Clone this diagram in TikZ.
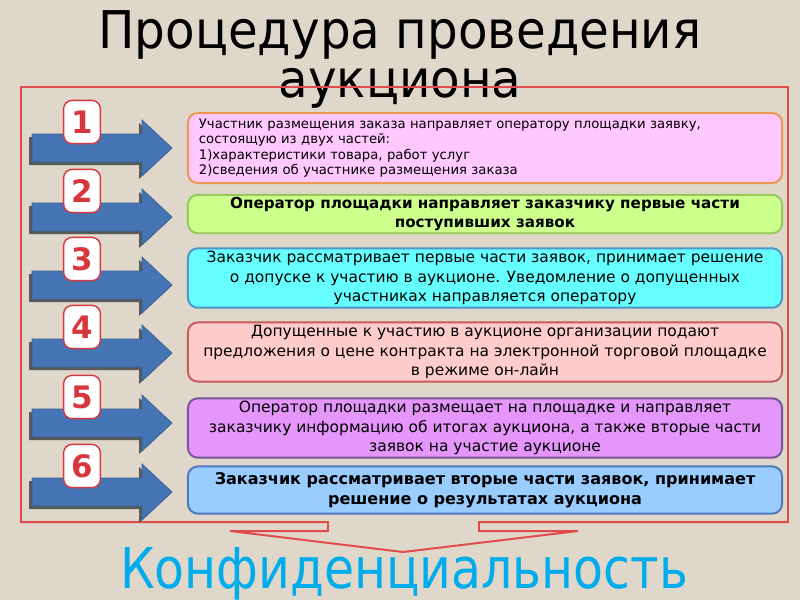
\documentclass[tikz,border=0pt]{standalone}
\usepackage{fontspec}
\setmainfont{DejaVu Sans}
\newfontfamily\titlefont[FakeStretch=0.93]{DejaVu Sans}
\newfontfamily\conffont[FakeStretch=0.87]{DejaVu Sans}
\usetikzlibrary{positioning}

\definecolor{paper}{RGB}{222,215,202}
\definecolor{frame}{RGB}{225,75,75}
\definecolor{arrowblue}{RGB}{70,117,182}
\definecolor{arrowline}{RGB}{55,95,150}
\definecolor{numred}{RGB}{215,55,60}
\definecolor{conf}{RGB}{0,172,235}

\tikzset{
  stepbox/.style={draw, rounded corners=7pt, line width=1.4pt, align=center,
    minimum width=14.85cm, inner sep=2pt, font=\fontsize{11}{13.9}\selectfont},
  badge/.style={draw=numred, fill=white, rounded corners=6pt, line width=1pt,
    minimum width=0.92cm, minimum height=1.08cm, inner sep=0pt,
    text=numred, font=\fontsize{22}{22}\selectfont\bfseries},
}

\begin{document}
\begin{tikzpicture}[x=0.025cm, y=-0.025cm]
  \fill[paper] (0,0) rectangle (800,600);

  % title
  \node (t1) [anchor=base, font=\fontsize{37}{37}\titlefont] at (400,48) {Процедура проведения};
  \node (t2) [anchor=base, font=\fontsize{37}{37}\titlefont] at (400,97) {аукциона};

  % frame with the arrow at the bottom
  \draw[frame, line width=1.4pt] (328,522) -- (21,522) -- (21,87) -- (788,87) -- (788,522) -- (479,522)
    -- (479,531) -- (578,531) -- (403,552) -- (230,531) -- (328,531) -- cycle;

  % arrows and numbers
  \foreach \y/\n in {148/1,217/2,285/3,353/4,423/5,492/6} {
    \fill[black!65] (29,\y-11) -- (139,\y-11) -- (139,\y-25) -- (169,\y+3) -- (139,\y+31) -- (139,\y+17) -- (29,\y+17) -- cycle;
    \filldraw[fill=arrowblue, draw=arrowline, line width=0.5pt] (32,\y-14) -- (142,\y-14) -- (142,\y-28) -- (172,\y) -- (142,\y+28) -- (142,\y+14) -- (32,\y+14) -- cycle;
    \node (n\n) [badge] at (82,\y-26) {\n};
  }

  % steps
  \node (b1) [stepbox, fill={rgb,255:red,255;green,200;blue,255}, draw={rgb,255:red,240;green,150;blue,80},
    minimum height=1.75cm, align=left, text width=14.3cm, font=\fontsize{9.4}{11}\selectfont] at (485,148)
    {Участник размещения заказа направляет оператору площадки заявку,\\
     состоящую из двух частей:\\
     1)характеристики товара, работ услуг\\
     2)сведения об участнике размещения заказа};
  \node (b2) [stepbox, fill={rgb,255:red,204;green,255;blue,140}, draw={rgb,255:red,150;green,200;blue,90},
    minimum height=0.93cm, font=\fontsize{10.8}{13}\selectfont\bfseries] at (485,214)
    {Оператор площадки направляет заказчику первые части\\ поступивших заявок};
  \node (b3) [stepbox, fill={rgb,255:red,102;green,255;blue,255}, draw={rgb,255:red,80;green,150;blue,200},
    minimum height=1.38cm] at (485,278)
    {Заказчик рассматривает первые части заявок, принимает решение\\
     о допуске к участию в аукционе. Уведомление о допущенных\\
     участниках направляется оператору};
  \node (b4) [stepbox, fill={rgb,255:red,255;green,204;blue,204}, draw={rgb,255:red,200;green,90;blue,90},
    minimum height=1.43cm] at (485,352)
    {Допущенные к участию в аукционе организации подают\\
     предложения о цене контракта на электронной торговой площадке\\
     в режиме он-лайн};
  \node (b5) [stepbox, fill={rgb,255:red,228;green,150;blue,250}, draw={rgb,255:red,120;green,85;blue,150},
    minimum height=1.43cm] at (485,428)
    {Оператор площадки размещает на площадке и направляет\\
     заказчику информацию об итогах аукциона, а также вторые части\\
     заявок на участие аукционе};
  \node (b6) [stepbox, fill={rgb,255:red,153;green,204;blue,255}, draw={rgb,255:red,80;green,120;blue,190},
    minimum height=1.18cm, font=\fontsize{11.4}{14.5}\selectfont\bfseries] at (485,490)
    {Заказчик рассматривает вторые части заявок, принимает\\
     решение о результатах аукциона};

  % conclusion
  \node (c1) [anchor=base, text=conf, font=\fontsize{40}{40}\conffont] at (404,588) {Конфиденциальность};
\end{tikzpicture}
\end{document}
